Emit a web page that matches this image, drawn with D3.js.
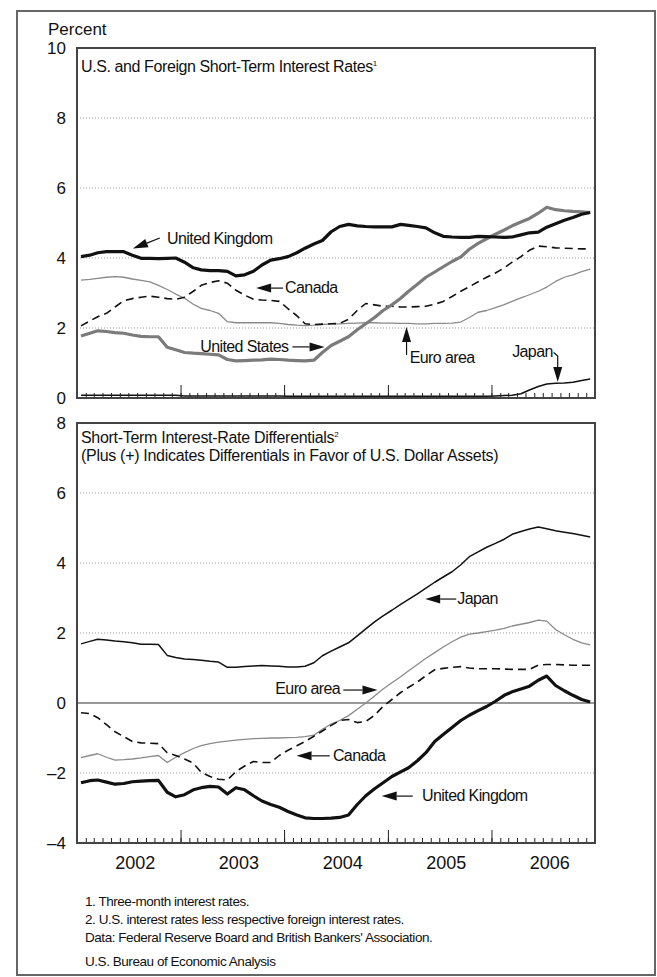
<!DOCTYPE html>
<html>
<head>
<meta charset="utf-8">
<script src="https://cdn.jsdelivr.net/npm/d3@7"></script>
<style>
body { margin: 0; background: #fff; }
svg text { font-family: "Liberation Sans", Arial, Helvetica, sans-serif; fill: #111; }
</style>
</head>
<body>
<script>
// monthly observations, Jan 2002 - Dec 2006 (plotted mid-month)
var months = d3.timeMonth.range(new Date(2002, 0, 1), new Date(2007, 0, 1))
    .map(function(d) { return d3.timeDay.offset(d, 14); });

// top panel: three-month rates, percent
var ukRate = [4.04, 4.08, 4.15, 4.18, 4.18, 4.18, 4.08, 3.99, 3.99, 3.98, 3.99, 4.00,
              3.88, 3.72, 3.66, 3.64, 3.64, 3.62, 3.49, 3.52, 3.62, 3.80, 3.94, 3.98,
              4.04, 4.15, 4.28, 4.40, 4.50, 4.75, 4.90, 4.96, 4.92, 4.90, 4.89, 4.89,
              4.89, 4.96, 4.93, 4.90, 4.86, 4.72, 4.62, 4.60, 4.59, 4.59, 4.62, 4.61,
              4.60, 4.59, 4.60, 4.66, 4.72, 4.74, 4.88, 4.98, 5.08, 5.16, 5.25, 5.30];
var usRate = [1.77, 1.85, 1.92, 1.90, 1.87, 1.85, 1.80, 1.76, 1.75, 1.75, 1.45, 1.38,
              1.30, 1.28, 1.27, 1.25, 1.23, 1.10, 1.06, 1.07, 1.08, 1.09, 1.11, 1.10,
              1.08, 1.07, 1.06, 1.08, 1.30, 1.50, 1.62, 1.75, 1.95, 2.12, 2.30, 2.50,
              2.66, 2.85, 3.05, 3.25, 3.45, 3.60, 3.75, 3.90, 4.03, 4.25, 4.42, 4.55,
              4.68, 4.80, 4.92, 5.03, 5.13, 5.28, 5.45, 5.38, 5.35, 5.33, 5.32, 5.30];
var canadaRate = [2.06, 2.20, 2.32, 2.42, 2.60, 2.78, 2.84, 2.88, 2.91, 2.88, 2.84, 2.82,
                  2.88, 3.05, 3.22, 3.30, 3.35, 3.28, 3.08, 2.94, 2.82, 2.80, 2.79, 2.76,
                  2.55, 2.35, 2.12, 2.10, 2.11, 2.12, 2.13, 2.25, 2.50, 2.70, 2.66, 2.62,
                  2.62, 2.60, 2.60, 2.61, 2.62, 2.68, 2.76, 2.90, 3.05, 3.18, 3.32, 3.45,
                  3.57, 3.72, 3.88, 4.04, 4.22, 4.34, 4.32, 4.29, 4.28, 4.27, 4.26, 4.26];
var euroRate = [3.37, 3.39, 3.42, 3.45, 3.47, 3.45, 3.40, 3.36, 3.32, 3.22, 3.10, 2.97,
                2.85, 2.68, 2.56, 2.50, 2.42, 2.18, 2.15, 2.15, 2.15, 2.15, 2.15, 2.13,
                2.10, 2.08, 2.07, 2.08, 2.10, 2.12, 2.12, 2.13, 2.14, 2.15, 2.15, 2.14,
                2.14, 2.13, 2.13, 2.12, 2.12, 2.13, 2.13, 2.14, 2.17, 2.30, 2.45, 2.50,
                2.58, 2.67, 2.76, 2.86, 2.95, 3.05, 3.17, 3.33, 3.45, 3.52, 3.61, 3.68];
var japanRate = [0.08, 0.08, 0.08, 0.08, 0.08, 0.08, 0.08, 0.08, 0.08, 0.08, 0.08, 0.08,
                 0.06, 0.06, 0.06, 0.06, 0.06, 0.06, 0.06, 0.06, 0.06, 0.06, 0.06, 0.06,
                 0.05, 0.05, 0.05, 0.05, 0.05, 0.05, 0.05, 0.05, 0.05, 0.05, 0.05, 0.05,
                 0.05, 0.05, 0.05, 0.05, 0.05, 0.05, 0.05, 0.05, 0.05, 0.05, 0.05, 0.05,
                 0.06, 0.07, 0.08, 0.12, 0.23, 0.33, 0.40, 0.42, 0.43, 0.45, 0.50, 0.54];

// bottom panel: U.S. rate less foreign rate, percentage points
var japanDiff = [1.69, 1.76, 1.82, 1.80, 1.77, 1.75, 1.72, 1.68, 1.68, 1.67, 1.36, 1.30,
                 1.26, 1.24, 1.22, 1.19, 1.17, 1.02, 1.02, 1.04, 1.06, 1.07, 1.06, 1.05,
                 1.03, 1.03, 1.05, 1.15, 1.35, 1.48, 1.60, 1.72, 1.92, 2.12, 2.32, 2.49,
                 2.65, 2.82, 2.96, 3.12, 3.28, 3.45, 3.60, 3.75, 3.95, 4.18, 4.32, 4.45,
                 4.56, 4.68, 4.82, 4.90, 4.97, 5.03, 4.98, 4.92, 4.88, 4.84, 4.79, 4.74];
var euroDiff = [-1.56, -1.50, -1.45, -1.55, -1.63, -1.62, -1.60, -1.57, -1.53, -1.50, -1.70, -1.55,
                -1.42, -1.30, -1.22, -1.16, -1.12, -1.09, -1.06, -1.04, -1.02, -1.01, -1.00, -1.00,
                -0.99, -0.98, -0.96, -0.92, -0.75, -0.60, -0.50, -0.36, -0.18, 0.00, 0.20, 0.40,
                0.58, 0.75, 0.92, 1.10, 1.28, 1.44, 1.60, 1.75, 1.88, 1.97, 2.00, 2.04,
                2.08, 2.13, 2.20, 2.25, 2.30, 2.37, 2.34, 2.10, 1.95, 1.82, 1.72, 1.66];
var canadaDiff = [-0.28, -0.30, -0.42, -0.62, -0.82, -0.96, -1.10, -1.14, -1.15, -1.16, -1.42, -1.50,
                  -1.60, -1.72, -1.98, -2.10, -2.18, -2.20, -1.96, -1.80, -1.67, -1.70, -1.70, -1.50,
                  -1.35, -1.22, -1.10, -0.95, -0.80, -0.64, -0.50, -0.47, -0.56, -0.53, -0.35, -0.10,
                  0.10, 0.30, 0.45, 0.60, 0.78, 0.95, 0.99, 1.02, 1.04, 1.00, 0.98, 0.98,
                  0.98, 0.97, 0.96, 0.96, 0.96, 1.08, 1.10, 1.10, 1.09, 1.08, 1.08, 1.08];
var ukDiff = [-2.28, -2.22, -2.20, -2.26, -2.32, -2.30, -2.25, -2.23, -2.22, -2.21, -2.55, -2.68,
              -2.62, -2.48, -2.42, -2.38, -2.40, -2.60, -2.42, -2.48, -2.65, -2.80, -2.90, -2.98,
              -3.10, -3.20, -3.28, -3.30, -3.30, -3.29, -3.27, -3.20, -2.90, -2.65, -2.45, -2.28,
              -2.10, -1.97, -1.85, -1.65, -1.42, -1.10, -0.90, -0.70, -0.50, -0.35, -0.22, -0.10,
              0.05, 0.22, 0.32, 0.40, 0.48, 0.65, 0.77, 0.50, 0.35, 0.22, 0.10, 0.03];

var topTicks = [0, 2, 4, 6, 8, 10];
var bottomTicks = [-4, -2, 0, 2, 4, 6, 8];
var years = [2002, 2003, 2004, 2005, 2006];

// labels with arrows, positions given as [fractional year, value]
var topNotes = [
  {text: "United Kingdom", at: [2002.87, 4.40], from: [2002.80, 4.57], to: [2002.54, 4.27]},
  {text: "Canada", at: [2004.01, 3.00], from: [2003.99, 3.14], to: [2003.73, 3.14]},
  {text: "United States", at: [2003.19, 1.31], from: [2004.08, 1.46], to: [2004.39, 1.46]},
  {text: "Euro area", at: [2005.21, 1.00], from: [2005.18, 1.23], to: [2005.18, 2.03]},
  {text: "Japan", at: [2006.20, 1.17], from: [2006.60, 1.30], via: [2006.64, 1.20], to: [2006.64, 0.46]}
];
var bottomNotes = [
  {text: "Japan", at: [2005.67, 2.83], from: [2005.66, 2.97], to: [2005.36, 2.97]},
  {text: "Euro area", at: [2004.54, 0.26], anchor: "end", from: [2004.57, 0.37], to: [2004.90, 0.37]},
  {text: "Canada", at: [2004.47, -1.66], from: [2004.44, -1.51], to: [2004.12, -1.51]},
  {text: "United Kingdom", at: [2005.33, -2.80], from: [2005.24, -2.66], to: [2004.94, -2.66]}
];

var width = 657, height = 977;
var left = 77, right = 595;

var svg = d3.select("body").append("svg")
    .attr("width", width)
    .attr("height", height);

// outer frame
svg.append("rect")
    .attr("x", 17).attr("y", 11)
    .attr("width", 638).attr("height", 964)
    .attr("fill", "none")
    .attr("stroke", "#666")
    .attr("stroke-width", 2);

var x = d3.scaleTime()
    .domain([new Date(2002, 0, 1), new Date(2007, 0, 1)])
    .range([left, right]);

function yearDate(f) {
    var y0 = Math.floor(f),
        d0 = new Date(y0, 0, 1),
        d1 = new Date(y0 + 1, 0, 1);
    return new Date(+d0 + (f - y0) * (d1 - d0));
}

function drawPanel(y, ticks, series, notes, showZero) {
    var g = svg.append("g");

    // dotted grid
    g.selectAll(".grid")
        .data(ticks.filter(function(t) { return t !== y.domain()[0] && t !== y.domain()[1] && t !== 0; }))
      .enter().append("line")
        .attr("x1", left).attr("x2", right)
        .attr("y1", function(d) { return y(d); })
        .attr("y2", function(d) { return y(d); })
        .attr("stroke", "#999")
        .attr("stroke-width", 1)
        .attr("stroke-dasharray", "1,2");

    if (showZero) {
        g.append("line")
            .attr("x1", left).attr("x2", right)
            .attr("y1", y(0)).attr("y2", y(0))
            .attr("stroke", "#333")
            .attr("stroke-width", 1.2);
    }

    // y labels
    g.selectAll(".ylab")
        .data(ticks)
      .enter().append("text")
        .attr("x", 66)
        .attr("y", function(d) { return y(d) + 6; })
        .attr("text-anchor", "end")
        .style("font-size", "17px")
        .text(function(d) { return d < 0 ? "\u2013" + Math.abs(d) : d; });

    // series
    series.forEach(function(s) {
        var line = d3.line()
            .x(function(d, i) { return x(months[i]); })
            .y(function(d) { return y(d); });
        g.append("path")
            .datum(s.values)
            .attr("fill", "none")
            .attr("stroke", s.color)
            .attr("stroke-width", s.width)
            .attr("stroke-dasharray", s.dash || null)
            .attr("stroke-linejoin", "round")
            .attr("d", line);
    });

    // month ticks, pointing up from the bottom edge
    var bottom = y.range()[0];
    g.append("g")
        .attr("transform", "translate(0," + bottom + ")")
        .call(d3.axisBottom(x)
            .tickValues(d3.timeMonth.range(new Date(2002, 1, 1), new Date(2007, 0, 1)))
            .tickSize(-5)
            .tickFormat(""))
        .call(function(a) { a.select(".domain").remove(); a.selectAll("line").attr("stroke", "#222"); });
    g.append("g")
        .attr("transform", "translate(0," + bottom + ")")
        .call(d3.axisBottom(x)
            .tickValues(d3.timeYear.range(new Date(2003, 0, 1), new Date(2007, 0, 1)))
            .tickSize(-13)
            .tickFormat(""))
        .call(function(a) { a.select(".domain").remove(); a.selectAll("line").attr("stroke", "#222"); });

    // plot box
    g.append("rect")
        .attr("x", left).attr("y", y.range()[1])
        .attr("width", right - left)
        .attr("height", y.range()[0] - y.range()[1])
        .attr("fill", "none")
        .attr("stroke", "#444")
        .attr("stroke-width", 2);

    // annotations
    notes.forEach(function(n) {
        g.append("text")
            .attr("x", x(yearDate(n.at[0])))
            .attr("y", y(n.at[1]))
            .attr("text-anchor", n.anchor || "start")
            .style("font-size", "16px")
            .style("letter-spacing", "-0.6px")
            .text(n.text);
        var pts = [n.from];
        if (n.via) pts.push(n.via);
        pts.push(n.to);
        pts = pts.map(function(p) { return [x(yearDate(p[0])), y(p[1])]; });
        var a = pts[pts.length - 2], b = pts[pts.length - 1];
        var ang = Math.atan2(b[1] - a[1], b[0] - a[0]);
        var len = 15, half = 4.5;
        var base = [b[0] - len * Math.cos(ang), b[1] - len * Math.sin(ang)];
        var shaft = pts.slice(0, -1).concat([base]);
        g.append("path")
            .attr("d", d3.line()(shaft))
            .attr("fill", "none")
            .attr("stroke", "#111")
            .attr("stroke-width", 1.2);
        g.append("path")
            .attr("d", "M" + b[0] + "," + b[1] +
                "L" + (base[0] - half * Math.sin(ang)) + "," + (base[1] + half * Math.cos(ang)) +
                "L" + (base[0] + half * Math.sin(ang)) + "," + (base[1] - half * Math.cos(ang)) + "Z")
            .attr("fill", "#111");
    });

    return g;
}

var yTop = d3.scaleLinear().domain([0, 10]).range([398, 48]);
var yBot = d3.scaleLinear().domain([-4, 8]).range([843, 423]);

drawPanel(yTop, topTicks, [
    {values: euroRate, color: "#8a8a8a", width: 1.3},
    {values: canadaRate, color: "#111", width: 1.6, dash: "8,5"},
    {values: japanRate, color: "#111", width: 1.5},
    {values: usRate, color: "#7b7b7b", width: 3.2},
    {values: ukRate, color: "#111", width: 3.2}
], topNotes, false);

drawPanel(yBot, bottomTicks, [
    {values: euroDiff, color: "#8a8a8a", width: 1.3},
    {values: canadaDiff, color: "#111", width: 1.6, dash: "8,5"},
    {values: japanDiff, color: "#111", width: 1.5},
    {values: ukDiff, color: "#111", width: 3.2}
], bottomNotes, true);

// titles
svg.append("text")
    .attr("x", 48).attr("y", 35)
    .style("font-size", "17px")
    .text("Percent");

var t1 = svg.append("text")
    .attr("x", 81).attr("y", 72)
    .style("font-size", "16px")
    .style("letter-spacing", "-0.4px");
t1.append("tspan").text("U.S. and Foreign Short-Term Interest Rates");
t1.append("tspan").attr("dy", -6).style("font-size", "8px").text("1");

var t2 = svg.append("text")
    .attr("x", 81).attr("y", 443)
    .style("font-size", "16px")
    .style("letter-spacing", "-0.3px");
t2.append("tspan").text("Short-Term Interest-Rate Differentials");
t2.append("tspan").attr("dy", -6).style("font-size", "8px").text("2");
svg.append("text")
    .attr("x", 81).attr("y", 461)
    .style("font-size", "16px")
    .style("letter-spacing", "-0.3px")
    .text("(Plus (+) Indicates Differentials in Favor of  U.S. Dollar Assets)");

// year labels
svg.selectAll(".year")
    .data(years)
  .enter().append("text")
    .attr("x", function(d) { return x(new Date(d, 6, 1)) + 7; })
    .attr("y", 869)
    .attr("text-anchor", "middle")
    .style("font-size", "18px")
    .text(function(d) { return d; });

// footnotes
var notes = [
    ["1. Three-month interest rates.", 906],
    ["2. U.S. interest rates less respective foreign interest rates.", 924],
    ["Data: Federal Reserve Board and British Bankers' Association.", 942],
    ["U.S. Bureau of Economic Analysis", 966]
];
svg.selectAll(".foot")
    .data(notes)
  .enter().append("text")
    .attr("x", 85)
    .attr("y", function(d) { return d[1]; })
    .style("font-size", "13.5px")
    .style("letter-spacing", "-0.45px")
    .text(function(d) { return d[0]; });
</script>
</body>
</html>
